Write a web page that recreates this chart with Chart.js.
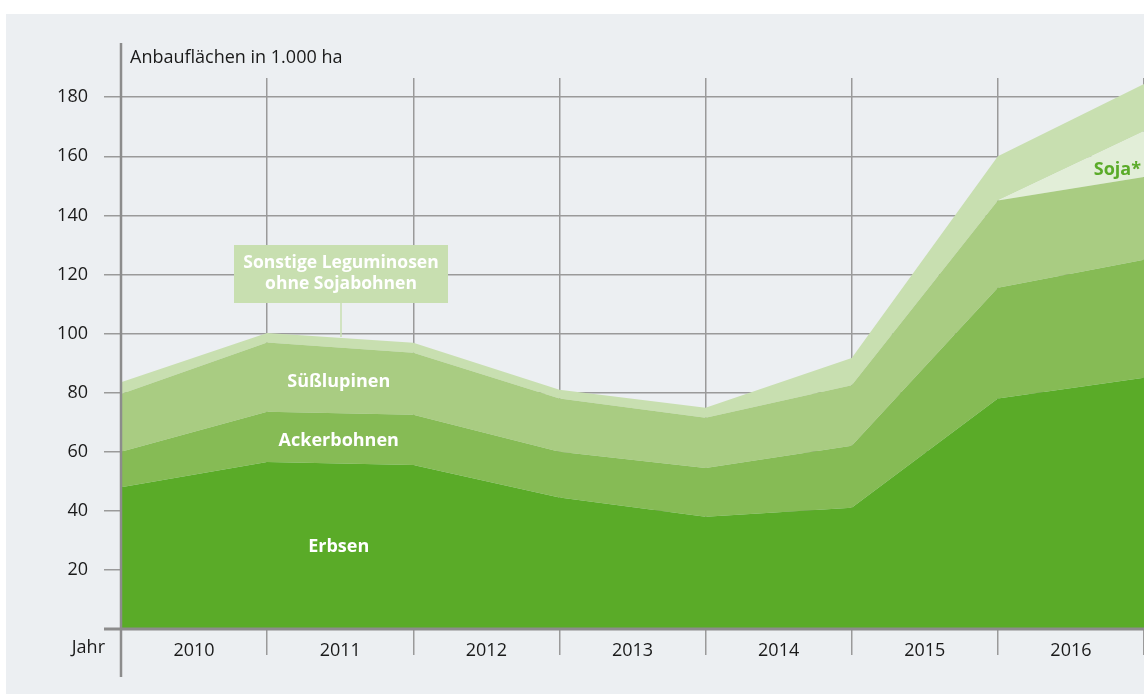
<!DOCTYPE html>
<html lang="de">
<head>
<meta charset="utf-8">
<script src="https://cdn.jsdelivr.net/npm/chart.js@4/dist/chart.umd.min.js"></script>
<style>
  html, body { margin: 0; padding: 0; background: #fff; }
  #wrap { width: 1144px; height: 697px; position: relative; }
</style>
</head>
<body>
<div id="wrap"><canvas id="chart" width="1144" height="697"></canvas></div>
<script>
// Jahre (Beschriftung zwischen den Gitterlinien)
var jahre = ['2010', '2011', '2012', '2013', '2014', '2015', '2016'];
// Stützpunkte an den Jahresgrenzen (Anfang 2010 ... Ende 2016), in 1.000 ha
var erbsen      = [48, 56.5, 55.5, 44.5, 38, 41, 78, 85];
var ackerbohnen = [12, 17, 17, 15.5, 16.5, 21, 37.5, 40];
var suesslupinen = [19.5, 23.5, 21, 18, 17, 20.5, 29.5, 28];
var soja        = [0, 0, 0, 0, 0, 0, 0, 15.5];
var sonstige    = [4, 3.2, 3.4, 3, 3.4, 9.2, 15, 16];
var yTicks = [20, 40, 60, 80, 100, 120, 140, 160, 180];

var FONT = '"Open Sans", "Noto Sans", sans-serif';

function punkte(werte) {
  return werte.map(function (v, i) { return { x: i, y: v }; });
}

function ds(label, werte, farbe, fill) {
  return {
    label: label,
    data: punkte(werte),
    backgroundColor: farbe,
    borderWidth: 0,
    pointRadius: 0,
    fill: fill,
    tension: 0
  };
}

// Hintergrund, Achsenlinien und Beschriftungen
var deko = {
  id: 'deko',
  beforeDraw: function (chart) {
    var c = chart.ctx;
    c.save();
    c.fillStyle = '#eceff2';
    c.fillRect(6, 14, 1144 - 6, 680);
    c.restore();
  },
  afterDraw: function (chart) {
    var c = chart.ctx, xs = chart.scales.x;
    var a = chart.chartArea;
    c.save();
    // Achsen
    c.strokeStyle = '#8c8c8c';
    c.lineWidth = 3;
    c.beginPath();
    c.moveTo(104, a.bottom); c.lineTo(a.right, a.bottom);
    c.stroke();
    c.lineWidth = 2.5;
    c.beginPath();
    c.moveTo(a.left, 43); c.lineTo(a.left, 677);
    c.stroke();

    // Achsentitel
    c.fillStyle = '#1a1a1a';
    c.font = '18px ' + FONT;
    c.textAlign = 'left';
    c.textBaseline = 'middle';
    c.fillText('Anbauflächen in 1.000 ha', 130, 58);
    c.textAlign = 'right';
    c.fillText('Jahr', 105, 648);

    // Flächenbeschriftungen
    c.fillStyle = '#ffffff';
    c.font = 'bold 18px ' + FONT;
    c.textAlign = 'center';
    var xm = xs.getPixelForValue(1.49);
    c.fillText('Erbsen', xm, 547);
    c.fillText('Ackerbohnen', xm, 441);
    c.fillText('Süßlupinen', xm, 382);

    // Hinweiskasten Sonstige
    c.strokeStyle = '#c8dfb0';
    c.lineWidth = 1.5;
    c.beginPath();
    c.moveTo(341, 302); c.lineTo(341, 337);
    c.stroke();
    c.fillStyle = '#c8dfb0';
    c.fillRect(234, 245, 214, 58);
    c.fillStyle = '#ffffff';
    c.font = 'bold 17.5px ' + FONT;
    c.fillText('Sonstige Leguminosen', 341, 263);
    c.fillText('ohne Sojabohnen', 341, 284);

    // Soja
    c.fillStyle = '#5aab28';
    c.font = 'bold 18px ' + FONT;
    c.textAlign = 'right';
    c.fillText('Soja*', 1141, 170);
    c.restore();
  }
};

new Chart(document.getElementById('chart'), {
  type: 'line',
  data: {
    datasets: [
      ds('Erbsen', erbsen, '#5aab28', 'origin'),
      ds('Ackerbohnen', ackerbohnen, '#86bb55', '-1'),
      ds('Süßlupinen', suesslupinen, '#a9cc82', '-1'),
      ds('Soja', soja, '#e2eed8', '-1'),
      ds('Sonstige Leguminosen ohne Sojabohnen', sonstige, '#c8dfb0', '-1')
    ]
  },
  options: {
    responsive: false,
    animation: false,
    layout: { padding: { top: 78, right: 0, left: 0, bottom: 0 } },
    plugins: { legend: { display: false }, tooltip: { enabled: false } },
    scales: {
      x: {
        type: 'linear',
        min: 0,
        max: 7,
        afterFit: function (s) { s.height = 68; },
        afterBuildTicks: function (s) {
          var t = [];
          for (var i = 0; i <= 14; i++) t.push({ value: i / 2 });
          s.ticks = t;
        },
        ticks: {
          autoSkip: false,
          maxRotation: 0,
          padding: -15,
          color: '#1a1a1a',
          font: { family: FONT, size: 18 },
          callback: function (v) {
            return Number.isInteger(v) ? '' : jahre[Math.floor(v)];
          }
        },
        grid: {
          color: function (ctx) {
            var v = ctx.tick ? ctx.tick.value : 0;
            return Number.isInteger(v) ? '#9a9a9a' : 'rgba(0,0,0,0)';
          },
          lineWidth: 1.5,
          tickLength: 26,
          drawOnChartArea: true,
          z: 0
        },
        border: { display: false }
      },
      y: {
        stacked: true,
        min: 0,
        max: 186.5,
        afterFit: function (s) { s.width = 121; },
        afterBuildTicks: function (s) {
          s.ticks = yTicks.map(function (v) { return { value: v }; });
        },
        ticks: {
          color: '#1a1a1a',
          padding: 16,
          font: { family: FONT, size: 18 }
        },
        grid: {
          color: '#9a9a9a',
          lineWidth: 1.5,
          tickLength: 17
        },
        border: { display: false }
      }
    }
  },
  plugins: [deko]
});
</script>
</body>
</html>
